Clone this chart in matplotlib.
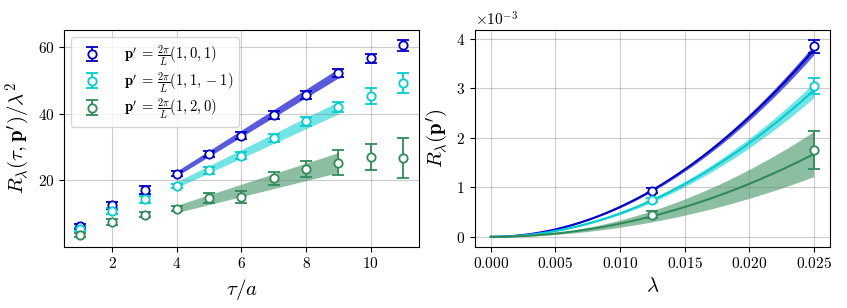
import numpy as np
import matplotlib
matplotlib.use("Agg")
import matplotlib.pyplot as plt

plt.rcParams['font.family'] = ['cmr10', 'DejaVu Serif']
plt.rcParams['mathtext.fontset'] = 'cm'
plt.rcParams['axes.formatter.use_mathtext'] = True
plt.rcParams['axes.unicode_minus'] = True

# left panel: R_lambda(tau, p') / lambda^2 vs tau/a
tau = np.arange(1, 12)
labels = [r"$\mathbf{p}^\prime\,=\,\frac{2\pi}{L}(1,0,1)$",
          r"$\mathbf{p}^\prime\,=\,\frac{2\pi}{L}(1,1,-1)$",
          r"$\mathbf{p}^\prime\,=\,\frac{2\pi}{L}(1,2,0)$"]
colors = ['mediumblue', 'darkturquoise', 'seagreen']

r101 = [6.2, 12.5, 17.0, 22.0, 27.9, 33.4, 39.6, 45.6, 52.3, 56.6, 60.5]
e101 = [0.8, 1.0, 1.2, 0.7, 1.0, 1.0, 1.1, 1.1, 1.2, 1.3, 1.6]
r11m1 = [5.4, 10.7, 14.3, 18.3, 23.0, 27.4, 32.6, 37.7, 41.9, 45.2, 49.2]
e11m1 = [0.5, 0.9, 1.0, 0.7, 1.0, 1.0, 1.2, 1.4, 1.5, 2.4, 3.0]
r120 = [3.6, 7.5, 9.7, 11.5, 14.7, 15.0, 20.6, 23.5, 25.3, 27.0, 26.8]
e120 = [0.6, 0.8, 0.8, 0.8, 1.6, 1.7, 1.9, 2.4, 3.8, 3.9, 6.0]

# fit bands (tau = 4 ... 9)
band_tau = [4, 9]
band_lo = [[21.3, 50.7], [17.8, 39.9], [10.3, 22.3]]
band_hi = [[22.8, 53.5], [19.6, 43.6], [12.5, 28.3]]

# right panel: R_lambda(p') vs lambda
lam = [0.0125, 0.025]
R101 = np.array([0.93, 3.85]) * 1e-3
dR101 = np.array([0.05, 0.13]) * 1e-3
R11m1 = np.array([0.75, 3.05]) * 1e-3
dR11m1 = np.array([0.04, 0.165]) * 1e-3
R120 = np.array([0.446, 1.76]) * 1e-3
dR120 = np.array([0.07, 0.39]) * 1e-3

# quadratic fit coefficients R = c * lambda^2
fit_c = [6.05, 4.74, 2.68]
fit_dc = [0.16, 0.24, 0.73]
band_alpha = [0.65, 0.55, 0.55]

fig = plt.figure(figsize=(8.47, 3.08), dpi=100)
ax1 = fig.add_axes([0.0756, 0.199, 0.419, 0.703])
ax2 = fig.add_axes([0.5604, 0.199, 0.4195, 0.703])

ekw = dict(fmt='o', capsize=4, markerfacecolor='white', markersize=6,
           markeredgewidth=1.3, elinewidth=1.3, capthick=1.3)

for y, e, c, lab in zip([r101, r11m1, r120], [e101, e11m1, e120], colors, labels):
    ax1.errorbar(tau, y, yerr=e, color=c, label=lab, **ekw)
for lo, hi, c, a in zip(band_lo, band_hi, colors, band_alpha):
    ax1.fill_between(band_tau, lo, hi, color=c, alpha=a, lw=0)

ax1.set_xlabel(r"$\tau/a$", fontsize=15)
ax1.set_ylabel(r"$R_\lambda(\tau,\mathbf{p}^\prime)/\lambda^2$", fontsize=15)
ax1.set_yticks([20, 40, 60])
ax1.grid(True, color='gray', alpha=0.4)
ax1.tick_params(labelsize=11)
ax1.legend(loc='upper left', fontsize=10.5, labelspacing=0.15, handletextpad=1.2)

xs = np.linspace(0, 0.025, 200)
for y, dy, c, cc, dcc, a in zip([R101, R11m1, R120], [dR101, dR11m1, dR120],
                               colors, fit_c, fit_dc, band_alpha):
    ax2.plot(xs, cc * xs**2, color=c, lw=1.5)
    ax2.fill_between(xs, (cc - dcc) * xs**2, (cc + dcc) * xs**2, color=c, alpha=a, lw=0)
    ax2.errorbar(lam, y, yerr=dy, color=c, **ekw)

ax2.set_xlabel(r"$\lambda$", fontsize=15)
ax2.set_ylabel(r"$R_\lambda(\mathbf{p}^\prime)$", fontsize=15)
ax2.ticklabel_format(axis='y', style='sci', scilimits=(0, 0))
ax2.grid(True, color='gray', alpha=0.4)
ax2.tick_params(labelsize=11)
ax2.yaxis.get_offset_text().set_fontsize(11)

fig.savefig("out.png", dpi=100)
